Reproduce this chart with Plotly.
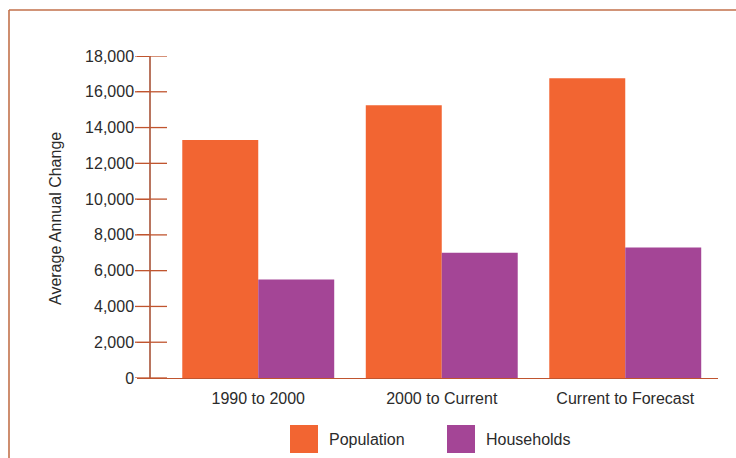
import plotly.graph_objects as go

categories = ["1990 to 2000", "2000 to Current", "Current to Forecast"]
population = [13300, 15250, 16750]
households = [5500, 7000, 7300]
y_ticks = [0, 2000, 4000, 6000, 8000, 10000, 12000, 14000, 16000, 18000]

ORANGE = "#F26532"
PURPLE = "#A44596"
TICK_C = "#C0552F"
AXIS_C = "#B9755F"
FRAME_C = "#C2714B"
TEXT_C = "#2B2B2B"
FONT = "Liberation Sans, Arial, sans-serif"
FS = 16

W, H = 736, 458
PL, PR, PT, PB = 151, 718, 56, 378  # plot area in px


def px(x):
    return (x - PL) / (PR - PL)


def py(y):
    return (PB - y) / (PB - PT)


fig = go.Figure()
fig.add_trace(go.Bar(x=categories, y=population, name="Population",
                     marker=dict(color=ORANGE, line=dict(width=0))))
fig.add_trace(go.Bar(x=categories, y=households, name="Households",
                     marker=dict(color=PURPLE, line=dict(width=0))))

unit = 183.5
xr0 = -0.5 - (166.5 - PL) / unit
xr1 = xr0 + (PR - PL) / unit

shapes = [
    # frame
    dict(type="line", xref="paper", yref="paper", x0=px(9), x1=px(745), y0=py(10), y1=py(10),
         line=dict(color=FRAME_C, width=1.6)),
    dict(type="line", xref="paper", yref="paper", x0=px(9), x1=px(9), y0=py(10), y1=py(470),
         line=dict(color=FRAME_C, width=1.6)),
    # legend swatches
    dict(type="rect", xref="paper", yref="paper", x0=px(290), x1=px(318), y0=py(425), y1=py(453),
         fillcolor=ORANGE, line=dict(width=0)),
    dict(type="rect", xref="paper", yref="paper", x0=px(447), x1=px(475), y0=py(425), y1=py(453),
         fillcolor=PURPLE, line=dict(width=0)),
]
# tick marks crossing the y axis
for v in y_ticks:
    shapes.append(dict(type="line", xref="paper", yref="y", x0=px(135), x1=px(167), y0=v, y1=v,
                       line=dict(color=TICK_C, width=1.3)))

annotations = [
    dict(text="Population", xref="paper", yref="paper", x=px(327), y=py(439),
         xanchor="left", yanchor="middle", showarrow=False,
         font=dict(family=FONT, size=FS, color=TEXT_C)),
    dict(text="Households", xref="paper", yref="paper", x=px(484), y=py(439),
         xanchor="left", yanchor="middle", showarrow=False,
         font=dict(family=FONT, size=FS, color=TEXT_C)),
    dict(text="Average Annual Change", xref="paper", yref="paper", x=px(55), y=py(219),
         xanchor="center", yanchor="middle", textangle=-90, showarrow=False,
         font=dict(family=FONT, size=FS, color=TEXT_C)),
]

fig.update_layout(
    width=W, height=H,
    margin=dict(l=PL, r=W - PR, t=PT, b=H - PB, pad=0),
    paper_bgcolor="white", plot_bgcolor="white",
    barmode="group", bargap=0.172, bargroupgap=0,
    showlegend=False,
    font=dict(family=FONT, size=FS, color=TEXT_C),
    xaxis=dict(range=[xr0, xr1], showgrid=False, zeroline=False,
               showline=True, linecolor=TICK_C, linewidth=1.3,
               ticks="", ticklabelstandoff=6,
               tickfont=dict(family=FONT, size=FS, color=TEXT_C)),
    yaxis=dict(range=[0, 18000], tickvals=y_ticks, tickformat=",",
               showgrid=False, zeroline=False,
               showline=True, linecolor=AXIS_C, linewidth=1.5,
               ticks="outside", ticklen=12, tickwidth=1.3, tickcolor=TICK_C,
               tickfont=dict(family=FONT, size=FS, color=TEXT_C)),
    shapes=shapes,
    annotations=annotations,
)

fig.write_html("out.html")
